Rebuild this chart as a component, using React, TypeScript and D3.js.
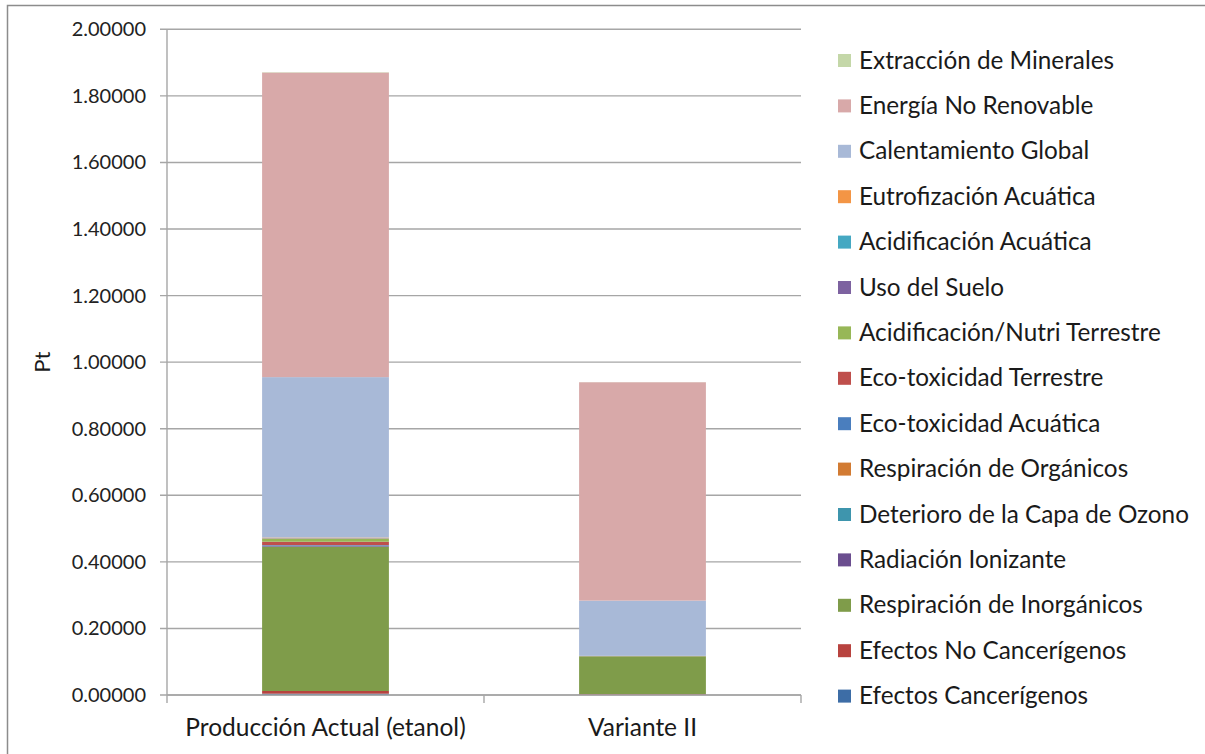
import React from "react";
import * as d3 from "d3";

// Impact categories, bottom of the stack first
const categories = [
  "Efectos Cancerígenos",
  "Efectos No Cancerígenos",
  "Respiración de Inorgánicos",
  "Radiación Ionizante",
  "Deterioro de la Capa de Ozono",
  "Respiración de Orgánicos",
  "Eco-toxicidad Acuática",
  "Eco-toxicidad Terrestre",
  "Acidificación/Nutri Terrestre",
  "Uso del Suelo",
  "Acidificación Acuática",
  "Eutrofización Acuática",
  "Calentamiento Global",
  "Energía No Renovable",
  "Extracción de Minerales",
];

const colors = [
  "#3D6DA6",
  "#B8433F",
  "#7F9C4A",
  "#6B4E8F",
  "#3E95AD",
  "#D27B33",
  "#4A7EBE",
  "#BF4F4C",
  "#97B757",
  "#7D62A0",
  "#45A8C2",
  "#F39545",
  "#A8B9D7",
  "#D8A9A9",
  "#C4D7A8",
];

const scenarios = ["Producción Actual (etanol)", "Variante II"];

// Points (Pt) per category, same order as `categories`
const produccionActual = [
  0.004, 0.008, 0.433, 0.002, 0.0005, 0.001, 0.002, 0.01, 0.009, 0.001, 0.0005,
  0.002, 0.482, 0.915, 0.001,
];
const varianteII = [
  0.001, 0.002, 0.113, 0.0001, 0.0001, 0.0001, 0.0001, 0.0003, 0.0005, 0.0001,
  0.0001, 0.0002, 0.166, 0.656, 0.0003,
];

const yTicks = [0, 0.2, 0.4, 0.6, 0.8, 1.0, 1.2, 1.4, 1.6, 1.8, 2.0];

const W = 1205;
const H = 754;
const plot = { left: 167, right: 801, top: 29.3, bottom: 695 };
const FONT = "Lato, 'Open Sans', sans-serif";

export default function App() {
  const x = d3
    .scaleBand<string>()
    .domain(scenarios)
    .range([plot.left, plot.right])
    .paddingInner(0.6)
    .paddingOuter(0.3);
  const y = d3.scaleLinear().domain([0, 2]).range([plot.bottom, plot.top]);

  const rows = scenarios.map((s, i) => {
    const vals = i === 0 ? produccionActual : varianteII;
    const r: Record<string, any> = { scenario: s };
    categories.forEach((c, j) => (r[c] = vals[j]));
    return r;
  });
  const series = d3.stack<any>().keys(categories)(rows);

  const step = x.step();
  const boundaries = [plot.left, plot.left + step, plot.left + 2 * step];

  const legendX = 838;
  const legendTop = 60;
  const legendGap = 45.4;
  const legendItems = categories.map((c, i) => ({ c, color: colors[i] })).reverse();

  return (
    <svg
      width={W}
      height={H}
      style={{ position: "absolute", left: 0, top: 0, background: "#fff" }}
      fontFamily={FONT}
    >
      <rect x={7.5} y={5.5} width={W + 10} height={H + 10} fill="#fff" stroke="#8c8c8c" strokeWidth={1.5} />

      {/* gridlines */}
      {yTicks.map((t) => (
        <line key={t} x1={plot.left - 7} x2={plot.right} y1={y(t)} y2={y(t)} stroke="#a6a6a6" strokeWidth={1.4} />
      ))}

      {/* stacked bars */}
      {series.map((s, i) => (
        <g key={s.key} fill={colors[i]}>
          {s.map((d, j) => (
            <rect
              key={j}
              x={x(scenarios[j])}
              width={x.bandwidth()}
              y={y(d[1])}
              height={Math.max(0, y(d[0]) - y(d[1]))}
            />
          ))}
        </g>
      ))}

      {/* axes */}
      <line x1={plot.left} x2={plot.left} y1={plot.top} y2={plot.bottom} stroke="#a6a6a6" strokeWidth={1.4} />
      <line x1={plot.left} x2={plot.right} y1={plot.bottom} y2={plot.bottom} stroke="#a6a6a6" strokeWidth={1.4} />
      {boundaries.map((b) => (
        <line key={b} x1={b} x2={b} y1={plot.bottom} y2={plot.bottom + 8} stroke="#a6a6a6" strokeWidth={1.4} />
      ))}

      {yTicks.map((t) => (
        <text key={t} x={146} y={y(t)} dy="0.35em" textAnchor="end" fontSize={20} fill="#222">
          {t.toFixed(5)}
        </text>
      ))}

      {scenarios.map((s) => (
        <text
          key={s}
          x={(x(s) as number) + x.bandwidth() / 2}
          y={727}
          dy="0.35em"
          textAnchor="middle"
          fontSize={24.5}
          fill="#1a1a1a"
        >
          {s}
        </text>
      ))}

      <text
        transform={`translate(42,${(plot.top + plot.bottom) / 2}) rotate(-90)`}
        textAnchor="middle"
        dy="0.35em"
        fontSize={22}
        fill="#1a1a1a"
      >
        Pt
      </text>

      {/* legend */}
      {legendItems.map((it, i) => {
        const cy = legendTop + i * legendGap;
        return (
          <g key={it.c}>
            <rect x={legendX} y={cy - 6} width={13} height={13} fill={it.color} />
            <text x={859} y={cy} dy="0.35em" fontSize={24.3} fill="#1a1a1a">
              {it.c}
            </text>
          </g>
        );
      })}
    </svg>
  );
}
